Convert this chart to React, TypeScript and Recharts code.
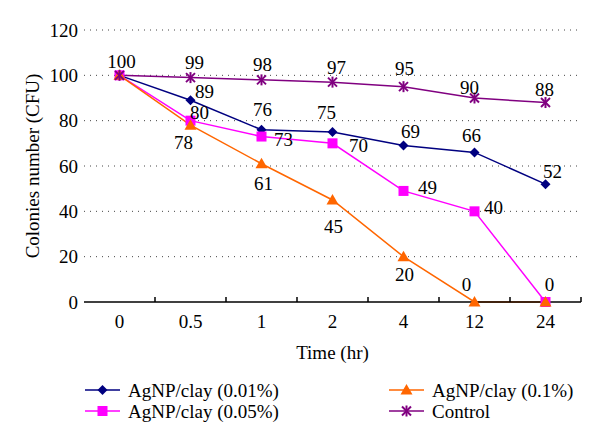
import React from "react";
import {
  LineChart,
  Line,
  XAxis,
  YAxis,
  CartesianGrid,
} from "recharts";

const times = ["0", "0.5", "1", "2", "4", "12", "24"];
const agnp001 = [100, 89, 76, 75, 69, 66, 52];
const agnp005 = [100, 80, 73, 70, 49, 40, 0];
const agnp01 = [100, 78, 61, 45, 20, 0, 0];
const control = [100, 99, 98, 97, 95, 90, 88];
const yTicks = [0, 20, 40, 60, 80, 100, 120];

const FONT = "Liberation Serif";
const FS = 19;
const TXT = { fontFamily: FONT, fontSize: FS, fill: "#000" };
const W = 600;
const H = 447;
const MARGIN = { top: 30, right: 19, left: 0, bottom: 0 };
const Y_AXIS_W = 84;
const BAND = (W - Y_AXIS_W - MARGIN.right) / times.length;

const data = times.map((t, i) => ({
  time: t,
  a001: agnp001[i],
  a005: agnp005[i],
  a01: agnp01[i],
  control: control[i],
}));

// label offsets (dx, dy) from each point, null = no label
const labelOffsets: Record<string, ([number, number] | null)[]> = {
  a001: [null, [14, -9], [1, -20], [-6, -20], [7, -14], [-3, -17], [7, -13]],
  a005: [null, [9, -8], [22, 3], [26, 2], [24, -3], [19, -4], [4, -18]],
  a01: [null, [-7, 17], [2, 20], [1, 26], [1, 18], [-8, -18], null],
  control: [[2, -14], [4, -15], [1, -15], [4, -15], [1, -18], [-5, -11], [-1, -13]],
};

const series = [
  { key: "a001", name: "AgNP/clay (0.01%)", color: "#000080", shape: "diamond" },
  { key: "a005", name: "AgNP/clay (0.05%)", color: "#FF00FF", shape: "square" },
  { key: "a01", name: "AgNP/clay (0.1%)", color: "#FF6600", shape: "triangle" },
  { key: "control", name: "Control", color: "#800080", shape: "star" },
];

const Marker = ({ cx, cy, shape, color }: any) => {
  if (cx == null || cy == null) return null;
  if (shape === "diamond") {
    const r = 5;
    return (
      <path
        d={`M${cx},${cy - r} L${cx + r},${cy} L${cx},${cy + r} L${cx - r},${cy} Z`}
        fill={color}
      />
    );
  }
  if (shape === "square") {
    const r = 5;
    return <rect x={cx - r} y={cy - r} width={2 * r} height={2 * r} fill={color} />;
  }
  if (shape === "triangle") {
    const r = 6;
    return (
      <path
        d={`M${cx},${cy - r} L${cx + r},${cy + r * 0.75} L${cx - r},${cy + r * 0.75} Z`}
        fill={color}
      />
    );
  }
  const r = 4.5;
  return (
    <g stroke={color} strokeWidth={2}>
      <line x1={cx - r} y1={cy - r} x2={cx + r} y2={cy + r} />
      <line x1={cx - r} y1={cy + r} x2={cx + r} y2={cy - r} />
      <line x1={cx} y1={cy - r - 1} x2={cx} y2={cy + r + 1} />
    </g>
  );
};

const makeLabel = (key: string) => (props: any) => {
  const { x, y, value, index } = props;
  const off = labelOffsets[key][index];
  if (!off) return null;
  return (
    <text
      key={`${key}-l-${index}`}
      x={x + off[0]}
      y={y + off[1]}
      textAnchor="middle"
      dominantBaseline="central"
      style={TXT}
    >
      {value}
    </text>
  );
};

const XTick = (props: any) => {
  const { x, y, payload } = props;
  return (
    <g>
      <line x1={x + BAND / 2} y1={y} x2={x + BAND / 2} y2={y - 5} stroke="#000" strokeWidth={1.5} />
      <text x={x} y={y + 19} textAnchor="middle" dominantBaseline="central" style={TXT}>
        {payload.value}
      </text>
    </g>
  );
};

const YTick = (props: any) => {
  const { x, y, payload } = props;
  return (
    <text x={x + 2} y={y} textAnchor="end" dominantBaseline="central" style={TXT}>
      {payload.value}
    </text>
  );
};

const YTitle = ({ viewBox }: any) => {
  const cx = 32;
  const cy = viewBox.y + viewBox.height / 2;
  return (
    <text
      x={cx}
      y={cy}
      transform={`rotate(-90 ${cx} ${cy})`}
      textAnchor="middle"
      dominantBaseline="central"
      style={TXT}
    >
      Colonies number (CFU)
    </text>
  );
};

const XTitle = ({ viewBox }: any) => {
  const cx = viewBox.x + viewBox.width / 2;
  return (
    <text x={cx} y={viewBox.y + 50} textAnchor="middle" dominantBaseline="central" style={TXT}>
      Time (hr)
    </text>
  );
};

const legendPos = [
  { x: 85, y: 390 },
  { x: 85, y: 411 },
  { x: 389, y: 390 },
  { x: 389, y: 411 },
];

const ChartLegend = () => (
  <svg
    width={W}
    height={H}
    style={{ position: "absolute", left: 0, top: 0, pointerEvents: "none" }}
  >
    {series.map((s, i) => {
      const p = legendPos[i];
      return (
        <g key={s.key}>
          <line x1={p.x} y1={p.y} x2={p.x + 35} y2={p.y} stroke={s.color} strokeWidth={1.5} />
          <Marker cx={p.x + 17.5} cy={p.y} shape={s.shape} color={s.color} />
          <text x={p.x + 43} y={p.y} dominantBaseline="central" style={TXT}>
            {s.name}
          </text>
        </g>
      );
    })}
  </svg>
);

export default function App() {
  return (
    <div style={{ position: "absolute", left: 0, top: 0, width: W, height: H, background: "#fff" }}>
      <LineChart width={W} height={H} data={data} margin={MARGIN}>
        <CartesianGrid
          horizontal
          vertical={false}
          stroke="#444"
          strokeDasharray="1 5"
          horizontalValues={[20, 40, 60, 80, 100, 120]}
        />
        <XAxis
          dataKey="time"
          height={H - 302}
          padding={{ left: BAND / 2, right: BAND / 2 }}
          tickLine={false}
          tickSize={0}
          tickMargin={0}
          axisLine={{ stroke: "#000", strokeWidth: 1.5 }}
          tick={<XTick />}
          interval={0}
          label={{ content: <XTitle /> } as any}
        />
        <YAxis
          width={Y_AXIS_W}
          domain={[0, 120]}
          ticks={yTicks}
          axisLine={false}
          tickLine={false}
          tick={<YTick />}
          label={{ content: <YTitle /> } as any}
        />
        {series.map((s) => (
          <Line
            key={s.key}
            dataKey={s.key}
            name={s.name}
            type="linear"
            stroke={s.color}
            strokeWidth={1.5}
            isAnimationActive={false}
            dot={(p: any) => <Marker key={`${s.key}-${p.index}`} cx={p.cx} cy={p.cy} shape={s.shape} color={s.color} />}
            activeDot={false}
            label={makeLabel(s.key)}
          />
        ))}
      </LineChart>
      <ChartLegend />
    </div>
  );
}
